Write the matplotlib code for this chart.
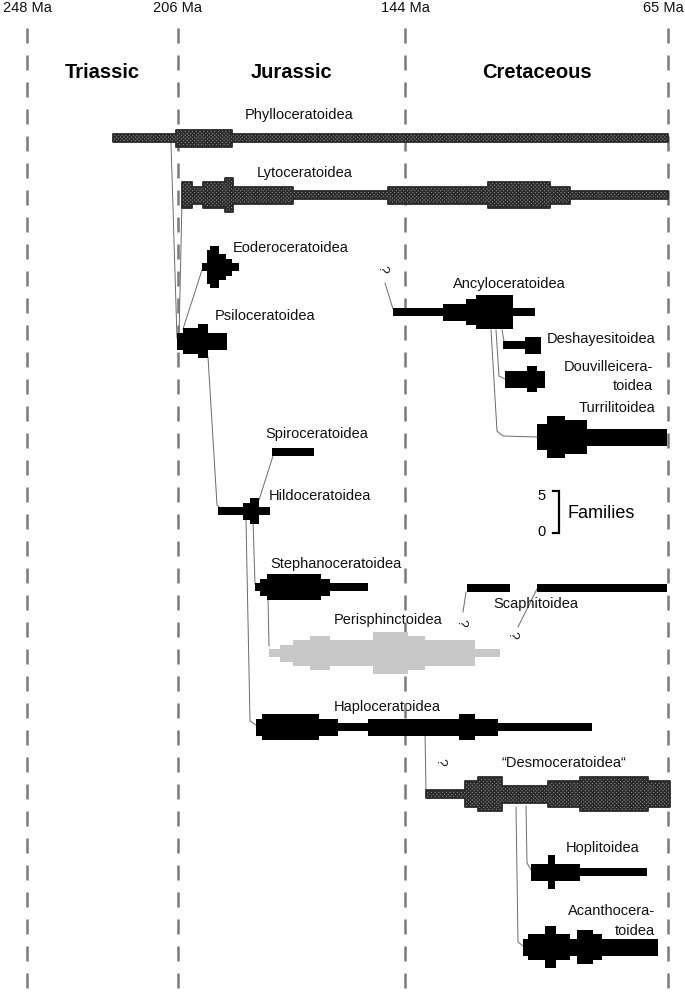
import numpy as np
import matplotlib
matplotlib.use("Agg")
import matplotlib.pyplot as plt

plt.rcParams['font.family'] = ['Liberation Sans', 'DejaVu Sans']
plt.rcParams['hatch.linewidth'] = 1.0

# ---------------- data ----------------
tick_ma = [248, 206, 144, 65]
tick_labels = ['248 Ma', '206 Ma', '144 Ma', '65 Ma']
periods = ['Triassic', 'Jurassic', 'Cretaceous']
period_start = [248, 206, 144]
period_end = [206, 144, 65]

# interval boundaries (Ma) and number of families in each interval
phyllo_t = [224, 206.5, 191.3, 65]
phyllo_n = [1, 2, 1]
lyto_t = [205, 202.2, 199.2, 193.2, 191, 174.6, 148.6, 119.1, 100.4, 94.4, 65]
lyto_n = [3, 2, 3, 4, 2, 1, 2, 3, 2, 1]
eodero_t = [199.4, 198.1, 197.3, 194.8, 192.9, 191.3, 189.3]
eodero_n = [1, 4, 5, 3, 2, 1]
psilo_t = [206.3, 204.6, 200.5, 197.8, 192.6]
psilo_n = [2, 3, 4, 2]
ancylo_t = [147.3, 132.6, 125.7, 122.7, 111.6, 104.9]
ancylo_n = [1, 2, 3, 4, 1]
deshay_t = [114.6, 108.0, 103.1]
deshay_n = [1, 2]
douv_t = [114.0, 107.4, 104.3, 101.9]
douv_n = [2, 3, 2]
turril_t = [104.3, 101.3, 95.9, 89.3, 65.3]
turril_n = [3, 5, 4, 2]
spiro_t = [180.3, 168.9]
spiro_n = [1]
hildo_t = [195.1, 188.2, 186.3, 183.9, 180.9]
hildo_n = [1, 2, 3, 1]
stephano_t = [185.0, 183.6, 181.7, 166.9, 164.5, 154.1]
stephano_n = [1, 2, 3, 2, 1]
scaph1_t = [125.4, 112.5]
scaph1_n = [1]
scaph2_t = [104.3, 65.3]
scaph2_n = [1]
perisph_t = [181.1, 178.1, 174.6, 169.9, 164.5, 152.7, 143.1, 138.0, 123.0, 115.5]
perisph_n = [1, 2, 3, 4, 3, 5, 4, 3, 1]
haplo_t = [184.7, 183.1, 167.5, 162.3, 154.1, 127.8, 123.0, 116.1, 87.8]
haplo_n = [2, 3, 2, 1, 2, 3, 2, 1]
desmo_t = [137.7, 126.0, 122.1, 114.9, 101.0, 91.4, 71.0, 64.5]
desmo_n = [1, 3, 4, 2, 3, 4, 3]
hoplit_t = [106.2, 101.0, 98.9, 91.4, 71.3]
hoplit_n = [2, 4, 2, 1]
acantho_t = [108.6, 107.1, 101.9, 98.6, 94.4, 92.3, 87.5, 84.8, 68.0]
acantho_n = [2, 3, 5, 3, 2, 4, 3, 2]

# ---------------- layout ----------------
W, H = 685, 992
FAM_PX = 8.5  # pixel thickness per family
MA_B = np.array([40, 65, 144, 206, 248, 270], dtype=float)   # ascending Ma
PX_B = np.array([751.2, 668, 405, 178, 27, -52.1])            # pixel column
NEG_PX = -PX_B                                                 # ascending


def fwd(ma):
    return np.interp(np.asarray(ma, dtype=float), MA_B, NEG_PX)


def inv(v):
    return np.interp(np.asarray(v, dtype=float), NEG_PX, MA_B)


fig = plt.figure(figsize=(W / 100, H / 100), dpi=100)
ov = fig.add_axes([0, 0, 1, 1])
ov.set_xlim(0, W)
ov.set_ylim(H, 0)
ov.axis('off')
ov.set_zorder(0)

ax = fig.add_axes([0, 0, 1, 1])
ax.set_xscale('function', functions=(fwd, inv))
ax.set_xlim(float(inv(0.0)), float(inv(-W)))
ax.set_ylim(H, 0)
ax.axis('off')
ax.patch.set_alpha(0)
ax.set_zorder(1)
fig.canvas.draw()
if ax.transData.transform((248, 0))[0] > W / 2:
    ax.invert_xaxis()

# dashed period boundaries and labels
for m, lab in zip(tick_ma, tick_labels):
    ax.plot([m, m], [28, 988], color='#7a7a7a', lw=1.8, ls=(0, (6, 4.8)), zorder=1,
            solid_capstyle='butt', dash_capstyle='butt')
    if m == tick_ma[-1]:
        ov.text(684, 8, lab, ha='right', va='center', fontsize=10.5, color='#111')
    else:
        ax.text(m, 8, lab, ha='center', va='center', fontsize=10.5, color='#111')
for p, a, b in zip(periods, period_start, period_end):
    mid = (a + b) / 2
    ax.text(mid, 72, p, ha='center', va='center', fontsize=14.5, fontweight='bold')

styles = {
    'tex': dict(facecolor='#8e8e8e', edgecolor='#2a2a2a', hatch='x' * 9, linewidth=1.3),
    'blk': dict(facecolor='black', edgecolor='none', linewidth=0),
    'gry': dict(facecolor='#c8c8c8', edgecolor='none', linewidth=0),
}

spindles = [
    (phyllo_t, phyllo_n, 138, 'tex'),
    (lyto_t, lyto_n, 195, 'tex'),
    (eodero_t, eodero_n, 267, 'blk'),
    (psilo_t, psilo_n, 341, 'blk'),
    (ancylo_t, ancylo_n, 312, 'blk'),
    (deshay_t, deshay_n, 345, 'blk'),
    (douv_t, douv_n, 379, 'blk'),
    (turril_t, turril_n, 437, 'blk'),
    (spiro_t, spiro_n, 452, 'blk'),
    (hildo_t, hildo_n, 511, 'blk'),
    (stephano_t, stephano_n, 587, 'blk'),
    (scaph1_t, scaph1_n, 588, 'blk'),
    (scaph2_t, scaph2_n, 588, 'blk'),
    (perisph_t, perisph_n, 653, 'gry'),
    (haplo_t, haplo_n, 727, 'blk'),
    (desmo_t, desmo_n, 794, 'tex'),
    (hoplit_t, hoplit_n, 872, 'blk'),
    (acantho_t, acantho_n, 947, 'blk'),
]
for t, n, yc, st in spindles:
    h = np.array(list(n) + [n[-1]], dtype=float) * FAM_PX / 2
    ax.fill_between(t, yc - h, yc + h, step='post', zorder=3, **styles[st])

# connecting lines (pixel coords)
conn = [
    [(171, 143), (177, 338)],
    [(182, 200), (179, 338)],
    [(183, 329), (202, 270)],
    [(208, 357), (217, 505), (220, 508)],
    [(259, 500), (273, 456)],
    [(253, 520), (255, 584), (258, 587)],
    [(246, 520), (250, 721), (256, 725)],
    [(268, 598), (269, 646)],
    [(425, 733), (426, 790)],
    [(385, 283), (393, 309)],
    [(502, 330), (504, 341)],
    [(496, 330), (499, 376), (505, 379)],
    [(491, 330), (497, 431), (503, 436), (537, 437)],
    [(526, 806), (527, 863), (531, 870)],
    [(516, 807), (518, 942), (523, 946)],
    [(466, 592), (463, 612)],
    [(537, 589), (518, 627)],
]
for c in conn:
    xs, ys = zip(*c)
    ov.plot(xs, ys, color='#6a6a6a', lw=0.7)

for x, y in [(382, 269), (461, 623), (512, 635), (440, 762)]:
    ov.text(x, y, '?', rotation=-90, ha='center', va='center', fontsize=10, color='#222')

fs = 10.5
labels = [
    (245, 115, 'Phylloceratoidea'),
    (257, 173, 'Lytoceratoidea'),
    (233, 248, 'Eoderoceratoidea'),
    (215, 316, 'Psiloceratoidea'),
    (453, 284, 'Ancyloceratoidea'),
    (547, 339, 'Deshayesitoidea'),
    (579, 408, 'Turrilitoidea'),
    (265, 434, 'Spiroceratoidea'),
    (269, 496, 'Hildoceratoidea'),
    (270, 564, 'Stephanoceratoidea'),
    (493, 604, 'Scaphitoidea'),
    (334, 620, 'Perisphinctoidea'),
    (334, 707, 'Haploceratoidea'),
    (502, 763, '\u201cDesmoceratoidea\u201c'),
    (566, 848, 'Hoplitoidea'),
]
for x, y, s in labels:
    ov.text(x, y, s, ha='left', va='center', fontsize=fs, color='#111')
for x, y, s in [(653, 367, 'Douvilleicera-'), (653, 386, 'toidea'),
                (655, 911, 'Acanthocera-'), (655, 931, 'toidea')]:
    ov.text(x, y, s, ha='right', va='center', fontsize=fs, color='#111')

# families scale bar
top = 533 - 5 * FAM_PX
ov.plot([553, 559, 559, 553], [top, top, 533, 533], color='black', lw=1.6,
        solid_joinstyle='miter')
ov.text(542, top + 5, '5', ha='center', va='center', fontsize=10.5)
ov.text(542, 532, '0', ha='center', va='center', fontsize=10.5)
ov.text(568, 513, 'Families', ha='left', va='center', fontsize=13)

fig.savefig('out.png', dpi=100)
